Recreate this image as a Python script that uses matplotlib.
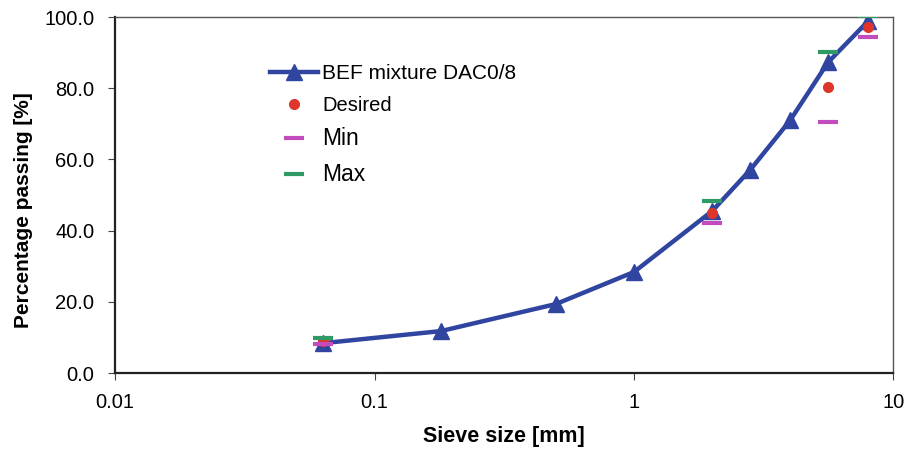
import matplotlib.pyplot as plt
import matplotlib.ticker as mticker

plt.rcParams['font.family'] = ['Liberation Sans', 'DejaVu Sans']

# sieve sizes [mm] and percentage passing
sieve = [0.063, 0.18, 0.5, 1, 2, 2.8, 4, 5.6, 8]
passing = [8.4, 11.8, 19.4, 28.4, 45.5, 57.0, 71.0, 87.3, 98.9]

spec_sieve = [0.063, 2, 5.6, 8]
desired = [9.0, 45.0, 80.3, 97.2]
spec_min = [8.2, 42.2, 70.5, 94.4]
spec_max = [9.8, 48.2, 90.2, 100.2]

fig = plt.figure(figsize=(9.07, 4.49), dpi=100)
ax = fig.add_axes([0.127, 0.169, 0.858, 0.793])

ax.plot(sieve, passing, color='#3045a0', lw=3.2, marker='^', ms=12,
        label='BEF mixture DAC0/8', zorder=3)
ax.plot(spec_sieve, desired, 'o', color='#e0352b', ms=7, ls='none',
        label='Desired', zorder=4)
ax.plot(spec_sieve, spec_min, '_', color='#c24cbd', ms=14, mew=3, ls='none',
        label='Min', zorder=5)
ax.plot(spec_sieve, spec_max, '_', color='#2f9a63', ms=14, mew=3, ls='none',
        label='Max', zorder=5)

ax.set_xscale('log')
ax.set_xlim(0.01, 10)
ax.set_ylim(0, 100)
ax.xaxis.set_major_locator(mticker.FixedLocator([0.01, 0.1, 1, 10]))
ax.xaxis.set_major_formatter(mticker.FuncFormatter(lambda v, p: '%g' % v))
ax.xaxis.set_minor_locator(mticker.NullLocator())
ax.yaxis.set_major_locator(mticker.MultipleLocator(20))
ax.yaxis.set_major_formatter(mticker.FormatStrFormatter('%.1f'))
ax.tick_params(labelsize=14.5, direction='out', length=5, color='#444444')
ax.tick_params(axis='x', pad=9)
ax.tick_params(axis='y', pad=10)

for s in ['left', 'bottom']:
    ax.spines[s].set_linewidth(1.6)
    ax.spines[s].set_color('#222222')
for s in ['top', 'right']:
    ax.spines[s].set_linewidth(1.0)
    ax.spines[s].set_color('#555555')

ax.set_xlabel('Sieve size [mm]', fontsize=15.5, fontweight='bold', labelpad=10.5)
ax.set_ylabel('Percentage passing [%]', fontsize=15, fontweight='bold')
ax.yaxis.set_label_coords(-0.106, 0.458)

leg = ax.legend(loc='upper left', bbox_to_anchor=(0.175, 0.92), frameon=False,
                fontsize=15, handlelength=2.3, labelspacing=0.6, handletextpad=0.2)
leg.get_texts()[1].set_fontsize(14.5)
for t in leg.get_texts()[2:]:
    t.set_fontsize(16.5)

fig.savefig('out.png', dpi=100)
